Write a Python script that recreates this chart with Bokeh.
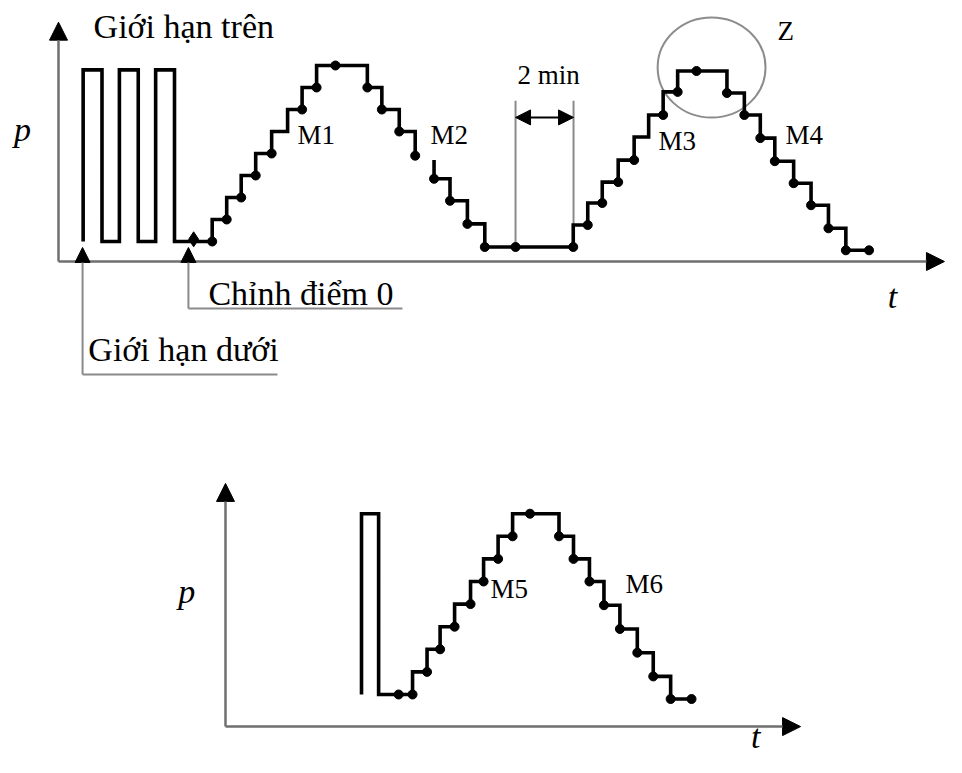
from bokeh.plotting import figure
from bokeh.models import Range1d, Label, Arrow, NormalHead
from bokeh.layouts import column
from bokeh.embed import file_html
from bokeh.resources import INLINE

# ================= DATA (t in min, p in pressure-step units) =================
# ---- upper diagram ----
top_pulse_edges = [0.85, 1.5, 2.1, 2.75, 3.35, 4.0]     # three calibration pulses
top_pulse_high = 7.8                                    # Giới hạn trên
top_pulse_low = 0.0                                     # Giới hạn dưới
top_zero_t = [4.66]                                     # Chỉnh điểm 0 mark
top_zero_p = [0.1]
# first cycle: step instants and levels (break at M2)
top_c1_t = [5.3, 5.8, 6.3, 6.8, 7.35, 7.9, 8.4, 8.9, 10.65, 11.15, 11.75, 12.3]
top_c1_p = [0, 1, 2, 3, 4, 5, 6, 7, 8, 7, 6, 5, 3.9]
top_c1_nodot = [5]                                      # M1
# continuation: end of first cycle, 2-min hold, second cycle
top_c2_t = [12.95, 13.5, 14.1, 14.7, 17.75, 18.25, 18.75, 19.3, 19.85, 20.35,
            20.85, 21.35, 23.05, 23.65, 24.2, 24.7, 25.35, 25.95, 26.55, 27.15]
top_c2_p = [3.7, 2.85, 1.85, 0.8, -0.25, 0.75, 1.75, 2.7, 3.7, 4.75, 5.75,
            6.8, 7.75, 6.75, 5.75, 4.7, 3.65, 2.65, 1.65, 0.6, -0.4]
top_c2_nodot = [9]                                      # M3
top_c2_end = 27.95
top_extra_t = [9.55, 15.76, 22.0, 27.95]                # extra reading points
top_extra_p = [8, -0.25, 7.75, -0.4]
hold_start, hold_end = 15.76, 17.76                     # "2 min"
z_center = (22.52, 7.91)
z_size = (3.72, 4.55)
top_labels = ["M1", "M2", "M3", "M4"]
top_label_t = [8.24, 12.83, 20.69, 25.07]
top_label_p = [4.45, 4.45, 4.14, 4.45]

# ---- lower diagram ----
bot_pulse_edges = [4.69, 5.28]
bot_pulse_high = 8.0
bot_pulse_low = 0.0
bot_c_t = [6.45, 6.95, 7.4, 7.9, 8.45, 8.9, 9.4, 9.9, 11.5, 12.0, 12.55,
           13.05, 13.6, 14.2, 14.75, 15.35]
bot_c_p = [0, 1, 2, 3, 4, 5, 6, 7, 8, 7, 6, 5, 3.95, 2.9, 1.85, 0.8, -0.2]
bot_c_end = 16.07
bot_extra_t = [5.97, 10.5, 16.07]
bot_extra_p = [0, 8, -0.2]
bot_labels = ["M5", "M6"]
bot_label_t = [9.14, 13.79]
bot_label_p = [4.25, 4.51]

# ================= helpers =================
SERIF = "Liberation Serif"
AXIS_C = "#6f6f6f"
ANN_C = "#8a8a8a"
TEXT_LIFT_PX = 9  # raise texts so their baseline sits where it was read


def pulse_path(edges, low, high):
    xs, ys = [], []
    for i, e in enumerate(edges):
        xs += [e, e]
        ys += [low, high] if i % 2 == 0 else [high, low]
    return xs, ys


def stair_path(ts, ps):
    xs, ys = [], []
    for i, t in enumerate(ts):
        xs += [t, t]
        ys += [ps[i], ps[i + 1]]
    return xs, ys


def lower_ends(ts, ps, skip=()):
    xs, ys = [], []
    for i, t in enumerate(ts):
        if i in skip:
            continue
        xs.append(t)
        ys.append(min(ps[i], ps[i + 1]))
    return xs, ys


def make_fig(w, h, xr, yr):
    f = figure(width=w, height=h, x_range=Range1d(*xr), y_range=Range1d(*yr),
               output_backend="svg", toolbar_location=None, min_border=0,
               x_axis_location=None, y_axis_location=None)
    f.grid.visible = False
    f.outline_line_color = None
    f.background_fill_color = "white"
    f.border_fill_color = "white"
    return f


def label(f, x, y, text, size, scale, italic=False, align="left"):
    f.add_layout(Label(x=x, y=y + TEXT_LIFT_PX / scale, text=text, text_font=SERIF,
                       text_font_size=size, text_color="black",
                       text_font_style="italic" if italic else "normal",
                       text_align=align, text_baseline="alphabetic"))


def arrow(f, x0, y0, x1, y1, size, color, width, both=False, line_color=None):
    head = lambda: NormalHead(size=size, fill_color=color, line_color=color)
    f.add_layout(Arrow(x_start=x0, y_start=y0, x_end=x1, y_end=y1,
                       end=head(), start=head() if both else None,
                       line_color=line_color or color, line_width=width))


W = 946
ORIGIN = 0  # picture pixel of the figure's top-left corner
# ---- upper figure: pixel frame -> (t, p) ----
TOP_H = 412
t_px, t0_px = 29.0, 58.0
p_px, p0_px = 22.0, 241.0
top = make_fig(W, TOP_H,
               ((ORIGIN - t0_px) / t_px, (ORIGIN + W - t0_px) / t_px),
               ((p0_px - (ORIGIN + TOP_H)) / p_px, (p0_px - ORIGIN) / p_px))

axis_p = -0.91
arrow(top, 0, axis_p, 0, 9.97, 18, "black", 2.5, line_color=AXIS_C)
arrow(top, 0, axis_p, 30.55, axis_p, 18, "black", 2.5, line_color=AXIS_C)

# annotation leaders
arrow(top, 0.83, -6.05, 0.83, -0.27, 15, "black", 2, line_color=ANN_C)
top.line([0.83, 7.55], [-6.05, -6.05], line_color=ANN_C, line_width=2)
arrow(top, 4.48, -3.05, 4.48, -0.27, 15, "black", 2, line_color=ANN_C)
top.line([4.48, 11.86], [-3.05, -3.05], line_color=ANN_C, line_width=2)

# 2 min markers
for tt in (hold_start, hold_end):
    top.line([tt, tt], [-0.3, 6.4], line_color=ANN_C, line_width=2)
arrow(top, hold_start, 5.64, hold_end, 5.64, 15, "black", 2, both=True)

# Z circle
top.ellipse(x=[z_center[0]], y=[z_center[1]], width=[z_size[0]], height=[z_size[1]],
            fill_color=None, line_color="#8c8c8c", line_width=2)

# pressure curves
px_, py_ = pulse_path(top_pulse_edges, top_pulse_low, top_pulse_high)
sx, sy = stair_path(top_c1_t, top_c1_p)
top.line(px_ + sx, py_ + sy, line_color="black", line_width=3.6, line_join="miter")
sx2, sy2 = stair_path(top_c2_t, top_c2_p)
top.line(sx2 + [top_c2_end], sy2 + [top_c2_p[-1]], line_color="black",
         line_width=3.6, line_join="miter")

d1x, d1y = lower_ends(top_c1_t, top_c1_p, top_c1_nodot)
d2x, d2y = lower_ends(top_c2_t, top_c2_p, top_c2_nodot)
top.scatter(d1x + d2x + top_extra_t, d1y + d2y + top_extra_p, size=9,
            color="black")
top.scatter(top_zero_t, top_zero_p, marker="diamond", size=15, color="black")

# texts
label(top, 1.21, 9.36, "Giới hạn trên", "34px", p_px)
label(top, -1.24, 4.68, "p", "34px", p_px, italic=True, align="center")
label(top, 28.76, -2.91, "t", "34px", p_px, italic=True, align="center")
label(top, 5.17, -2.77, "Chỉnh điểm 0", "34px", p_px)
label(top, 1.03, -5.32, "Giới hạn dưới", "34px", p_px)
for s, x, y in zip(top_labels, top_label_t, top_label_p):
    label(top, x, y, s, "27px", p_px)
label(top, 24.79, 9.14, "Z", "27px", p_px)
label(top, 15.83, 7.18, "2 min", "27px", p_px)

# ---- lower figure ----
BOT_H = 345
bt0_px = 225.0
bp_px, bp0_px = 22.6, 694.0
top_edge = ORIGIN + TOP_H
bot = make_fig(W, BOT_H,
               ((ORIGIN - bt0_px) / t_px, (ORIGIN + W - bt0_px) / t_px),
               ((bp0_px - (top_edge + BOT_H)) / bp_px, (bp0_px - top_edge) / bp_px))

b_axis_p = -1.42
arrow(bot, 0, b_axis_p, 0, 9.34, 18, "black", 2.5, line_color=AXIS_C)
arrow(bot, 0, b_axis_p, 19.83, b_axis_p, 18, "black", 2.5, line_color=AXIS_C)

bpx, bpy = pulse_path(bot_pulse_edges, bot_pulse_low, bot_pulse_high)
bsx, bsy = stair_path(bot_c_t, bot_c_p)
bot.line(bpx + bsx + [bot_c_end], bpy + bsy + [bot_c_p[-1]], line_color="black",
         line_width=3.6, line_join="miter")
bdx, bdy = lower_ends(bot_c_t, bot_c_p)
bot.scatter(bdx + bot_extra_t, bdy + bot_extra_p, size=9, color="black")

label(bot, -1.34, 4.16, "p", "34px", bp_px, italic=True, align="center")
label(bot, 18.28, -2.25, "t", "34px", bp_px, italic=True, align="center")
for s, x, y in zip(bot_labels, bot_label_t, bot_label_p):
    label(bot, x, y, s, "27px", bp_px)

layout = column(top, bot, spacing=0)
open("out.html", "w").write(file_html(layout, INLINE))
